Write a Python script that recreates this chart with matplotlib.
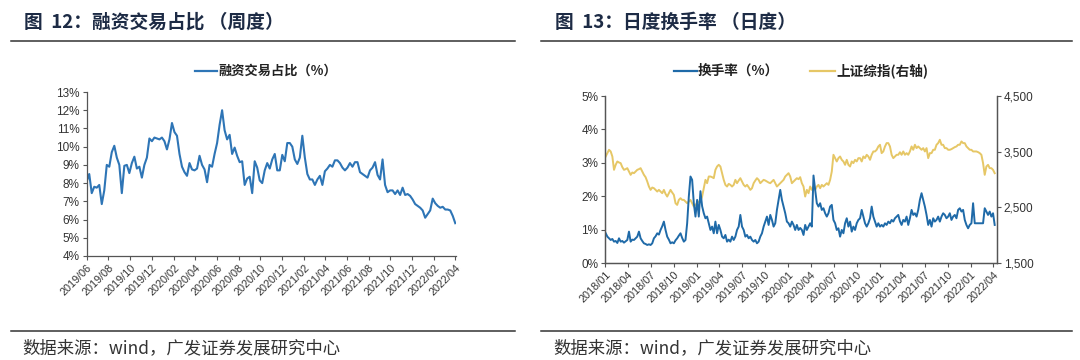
import matplotlib
matplotlib.use("Agg")
import matplotlib.pyplot as plt
from matplotlib.lines import Line2D
from matplotlib.ticker import FuncFormatter, MultipleLocator
import pandas as pd

plt.rcParams['font.family'] = ['Noto Sans CJK SC', 'DejaVu Sans']

# ---------------- data: left chart (weekly margin trading share, %) ----------------
margin_share = [
    8.1, 8.5, 7.45, 7.8, 7.75, 7.9, 6.85, 7.6, 9.0, 8.9,
    9.7, 10.05, 9.4, 9.0, 7.45, 8.95, 9.0, 8.55, 9.1, 9.45,
    8.8, 8.9, 8.3, 9.0, 9.4, 10.45, 10.3, 10.5, 10.45, 10.4,
    10.5, 10.3, 9.85, 10.4, 11.3, 10.8, 10.6, 9.6, 8.9, 8.6,
    8.4, 9.1, 8.75, 8.7, 8.8, 9.5, 9.0, 8.75, 8.05, 9.0,
    8.9, 9.6, 10.2, 11.2, 12.0, 10.9, 10.4, 10.65, 9.6, 9.95,
    9.5, 9.15, 9.2, 7.9, 8.25, 8.35, 7.45, 9.2, 8.85, 8.15,
    8.0, 8.7, 9.1, 8.8, 9.3, 9.6, 8.7, 8.7, 9.55, 9.2,
    10.2, 10.2, 10.0, 9.3, 9.05, 9.4, 10.6, 9.4, 8.5, 8.2,
    8.2, 7.9, 8.2, 8.4, 7.9, 8.65, 8.8, 9.0, 8.9, 9.25,
    9.25, 9.1, 8.85, 8.7, 8.85, 9.1, 8.9, 9.15, 9.15, 8.6,
    8.5, 8.4, 8.3, 8.7, 8.85, 9.15, 8.45, 8.2, 9.3, 7.9,
    7.5, 7.6, 7.6, 7.4, 7.6, 7.35, 7.75, 7.35, 7.4, 7.3,
    7.1, 6.85, 6.75, 6.65, 6.5, 6.1, 6.3, 6.5, 7.15, 6.9,
    6.75, 6.65, 6.7, 6.55, 6.55, 6.5, 6.2, 5.8,
]
left_start, left_end = "2019-06-01", "2022-04-01"
left_ticks = ["2019/06", "2019/08", "2019/10", "2019/12", "2020/02", "2020/04",
              "2020/06", "2020/08", "2020/10", "2020/12", "2021/02", "2021/04",
              "2021/06", "2021/08", "2021/10", "2021/12", "2022/02", "2022/04"]

# ---------------- data: right chart (turnover %, SSE composite) ----------------
turnover = [
    0.89, 0.79, 0.74, 0.69, 0.72, 0.64, 0.66, 0.60, 0.74, 0.64,
    0.66, 0.61, 0.65, 0.69, 0.94, 0.64, 0.70, 0.69, 0.74, 0.79,
    0.94, 0.74, 0.66, 0.59, 0.57, 0.54, 0.56, 0.54, 0.59, 0.74,
    0.80, 0.89, 0.85, 0.99, 1.10, 1.24, 0.99, 0.79, 0.70, 0.59,
    0.62, 0.59, 0.68, 0.74, 0.82, 0.89, 0.75, 0.64, 0.69, 1.19,
    1.99, 2.59, 2.49, 1.79, 1.39, 1.89, 1.39, 2.15, 1.70, 1.49,
    1.34, 1.39, 1.19, 0.99, 1.09, 0.89, 1.24, 0.89, 1.14, 0.99,
    0.79, 0.74, 0.84, 0.64, 0.70, 0.64, 0.79, 0.69, 0.79, 0.99,
    1.09, 1.44, 1.09, 0.99, 0.79, 0.84, 0.74, 0.79, 0.69, 0.64,
    0.69, 0.59, 0.64, 0.79, 0.89, 1.09, 1.24, 1.39, 1.14, 1.44,
    1.29, 1.09, 1.19, 1.59, 1.89, 2.19, 1.89, 1.69, 1.49, 1.24,
    1.19, 1.09, 1.24, 1.14, 0.99, 1.14, 0.99, 1.05, 0.99, 0.84,
    1.14, 0.99, 1.09, 1.19, 1.09, 2.62, 2.19, 1.79, 1.69, 1.79,
    1.59, 1.64, 1.49, 1.39, 1.49, 1.69, 1.74, 1.29, 1.19, 0.99,
    1.04, 0.79, 0.99, 0.89, 1.19, 1.34, 1.09, 1.24, 0.94, 1.09,
    0.99, 1.19, 1.29, 1.34, 1.59, 1.39, 1.19, 1.09, 1.19, 1.34,
    1.69, 1.39, 1.24, 1.09, 1.19, 1.09, 1.14, 1.09, 1.19, 1.14,
    1.24, 1.19, 1.29, 1.24, 1.34, 1.39, 1.44, 1.25, 1.14, 1.29,
    1.24, 1.39, 1.14, 1.34, 1.59, 1.44, 1.49, 1.39, 1.59, 1.89,
    2.09, 1.89, 1.69, 1.44, 1.14, 1.29, 1.09, 1.34, 1.24, 1.29,
    1.39, 1.24, 1.39, 1.49, 1.44, 1.34, 1.39, 1.49, 1.29, 1.39,
    1.44, 1.34, 1.59, 1.64, 1.54, 1.59, 1.29, 1.14, 1.04, 1.14,
    1.19, 1.79, 1.19, 1.19, 1.19, 1.19, 1.19, 1.19, 1.64, 1.54,
    1.44, 1.54, 1.39, 1.49, 1.14,
]
sse_index = [
    3414, 3474, 3534, 3504, 3414, 3174, 3264, 3324, 3306, 3294,
    3222, 3174, 3186, 3204, 3144, 3084, 3126, 3114, 3144, 3174,
    3186, 3204, 3144, 3084, 3042, 2964, 2874, 2814, 2856, 2844,
    2814, 2784, 2814, 2784, 2754, 2814, 2742, 2694, 2754, 2814,
    2766, 2724, 2574, 2544, 2634, 2664, 2634, 2634, 2604, 2574,
    2604, 2634, 2574, 2514, 2544, 2574, 2604, 2610, 2694, 2844,
    2994, 2934, 3054, 3054, 3042, 3024, 3174, 3234, 3264, 3234,
    3114, 2994, 2904, 2874, 2922, 2904, 2874, 2904, 2994, 2934,
    2982, 3024, 2964, 2904, 2874, 2904, 2862, 2814, 2844, 2934,
    2982, 3024, 2994, 2934, 2964, 2994, 2982, 2964, 2946, 2934,
    2964, 2994, 2934, 2874, 2904, 2934, 2964, 2994, 3054, 3084,
    3114, 3054, 2934, 2964, 2994, 3024, 3006, 3042, 2934, 2874,
    2694, 2814, 2754, 2874, 2814, 2874, 2814, 2874, 2904, 2844,
    2904, 2874, 2904, 2934, 2904, 2994, 3144, 3444, 3384, 3324,
    3384, 3414, 3354, 3324, 3264, 3354, 3264, 3234, 3324, 3294,
    3354, 3324, 3384, 3384, 3324, 3414, 3384, 3444, 3414, 3354,
    3444, 3504, 3504, 3534, 3594, 3624, 3474, 3504, 3594, 3654,
    3654, 3594, 3444, 3384, 3414, 3444, 3444, 3490, 3444, 3504,
    3444, 3474, 3444, 3504, 3594, 3534, 3624, 3564, 3594, 3564,
    3534, 3564, 3504, 3564, 3384, 3474, 3474, 3534, 3534, 3624,
    3654, 3714, 3624, 3624, 3564, 3564, 3534, 3534, 3546, 3564,
    3582, 3594, 3624, 3624, 3684, 3654, 3654, 3594, 3564, 3534,
    3534, 3504, 3504, 3504, 3492, 3474, 3444, 3294, 3084, 3234,
    3264, 3204, 3204, 3174, 3114,
]
right_start, right_end = "2018-01-02", "2022-04-06"
right_ticks = ["2018/01", "2018/04", "2018/07", "2018/10", "2019/01", "2019/04",
               "2019/07", "2019/10", "2020/01", "2020/04", "2020/07", "2020/10",
               "2021/01", "2021/04", "2021/07", "2021/10", "2022/01", "2022/04"]

# ---------------- figure ----------------
fig = plt.figure(figsize=(10.8, 3.6), dpi=100)
fig.patch.set_facecolor("white")

TITLE_C = "#1d2b45"
TICK_C = "#333333"
BLUE_L = "#2e75b6"
BLUE_R = "#1f6aa8"
YELLOW = "#e6c766"
NUMFONT = ["Liberation Sans", "DejaVu Sans"]


def to_dates(labels):
    return [pd.Timestamp(l.replace("/", "-") + "-01") for l in labels]


def style_xticks(ax, labels):
    ax.set_xticks(to_dates(labels))
    ax.set_xticklabels(labels, rotation=45, ha="right", rotation_mode="anchor",
                       fontsize=7.8, color=TICK_C, family=NUMFONT)
    ax.tick_params(axis="x", direction="out", length=3, width=0.8, color="#555555", pad=2)


# ---- left chart ----
axL = fig.add_axes([0.0803, 0.2889, 0.3419, 0.4555])
dL = pd.date_range(left_start, left_end, periods=len(margin_share))
axL.plot(dL, margin_share, color=BLUE_L, lw=1.5)
axL.set_xlim(pd.Timestamp(left_start), pd.Timestamp(left_end) + pd.Timedelta(days=2))
axL.set_ylim(4, 13)
axL.yaxis.set_major_locator(MultipleLocator(1))
axL.yaxis.set_major_formatter(FuncFormatter(lambda v, p: f"{v:.0f}%"))
for s in ["top", "right"]:
    axL.spines[s].set_visible(False)
for s in ["left", "bottom"]:
    axL.spines[s].set_color("#555555")
    axL.spines[s].set_linewidth(0.9)
axL.tick_params(axis="y", direction="out", length=3, width=0.8, color="#555555",
                labelsize=8.5, labelcolor=TICK_C, pad=2)
for t in axL.get_yticklabels():
    t.set_family(NUMFONT)
style_xticks(axL, left_ticks)

# ---- right chart ----
axR = fig.add_axes([0.5606, 0.2694, 0.3625, 0.4639])
dR = pd.date_range(right_start, right_end, periods=len(turnover))
axR2 = axR.twinx()
axR2.plot(dR, sse_index, color=YELLOW, lw=1.4)
axR.plot(dR, turnover, color=BLUE_R, lw=1.4)
axR.set_zorder(axR2.get_zorder() + 1)
axR.patch.set_visible(False)
axR.set_xlim(pd.Timestamp("2018-01-01"), pd.Timestamp("2022-04-15"))
axR.set_ylim(0, 5)
axR2.set_ylim(1500, 4500)
axR.yaxis.set_major_locator(MultipleLocator(1))
axR.yaxis.set_major_formatter(FuncFormatter(lambda v, p: f"{v:.0f}%"))
axR2.set_yticks([1500, 2500, 3500, 4500])
axR2.yaxis.set_major_formatter(FuncFormatter(lambda v, p: f"{v:,.0f}"))
for a in (axR, axR2):
    a.spines["top"].set_visible(False)
    for s in ["left", "right", "bottom"]:
        a.spines[s].set_color("#555555")
        a.spines[s].set_linewidth(0.9)
axR.tick_params(axis="y", direction="out", length=3, width=0.8, color="#555555",
                labelsize=8.5, labelcolor=TICK_C, pad=2)
axR2.tick_params(axis="y", direction="out", length=3, width=0.8, color="#555555",
                 labelsize=8.5, labelcolor=TICK_C, pad=2)
for t in axR.get_yticklabels() + axR2.get_yticklabels():
    t.set_family(NUMFONT)
style_xticks(axR, right_ticks)

# ---- titles, rules, legends, sources ----
fig.text(24 / 1080, 1 - 22 / 360, "图  12：融资交易占比 （周度）", fontsize=13.5, weight="bold",
         color=TITLE_C, va="center", ha="left")
fig.text(555 / 1080, 1 - 22 / 360, "图  13：日度换手率 （日度）", fontsize=13.5, weight="bold",
         color=TITLE_C, va="center", ha="left")

for x0, x1 in [(11, 515), (541, 1072)]:
    for yy in (40.5, 331):
        fig.add_artist(Line2D([x0 / 1080, x1 / 1080], [1 - yy / 360, 1 - yy / 360],
                              color="#333333", lw=1.1))

ly = 1 - 71 / 360
fig.add_artist(Line2D([195 / 1080, 217 / 1080], [ly, ly], color=BLUE_L, lw=1.6))
fig.text(218 / 1080, ly, "融资交易占比（%）", fontsize=9.5, color="#222222", va="center", ha="left",
         weight="bold")
fig.add_artist(Line2D([674 / 1080, 697 / 1080], [ly, ly], color=BLUE_R, lw=1.6))
fig.text(698 / 1080, ly, "换手率（%）", fontsize=9.8, color="#222222", va="center", ha="left",
         weight="bold")
fig.add_artist(Line2D([810 / 1080, 835 / 1080], [ly, ly], color=YELLOW, lw=1.6))
fig.text(836 / 1080, ly, "上证综指(右轴)", fontsize=9.8, color="#222222", va="center", ha="left",
         weight="bold")

src = "数据来源：wind，广发证券发展研究中心"
fig.text(22 / 1080, 1 - 348 / 360, src, fontsize=12.5, color="#333333", va="center", ha="left")
fig.text(553 / 1080, 1 - 348 / 360, src, fontsize=12.5, color="#333333", va="center", ha="left")

fig.savefig("out.png", dpi=100, facecolor="white")
